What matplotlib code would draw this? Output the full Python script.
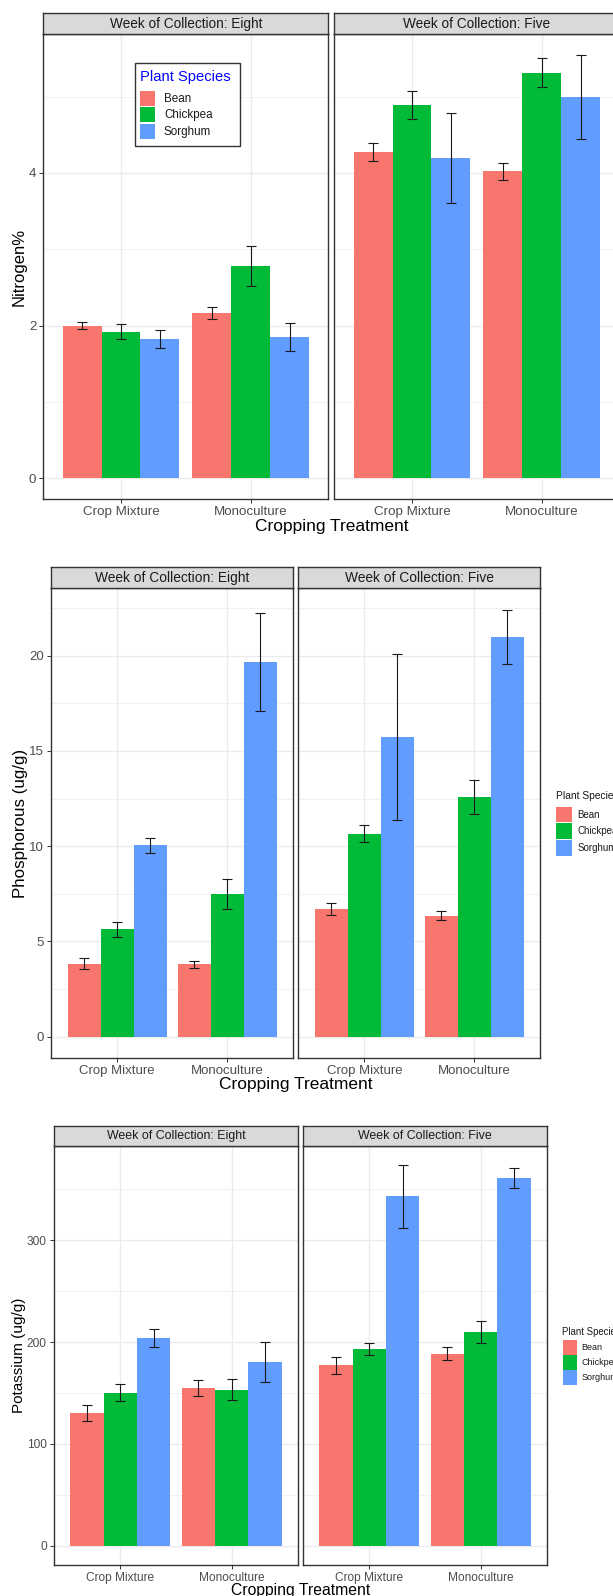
import matplotlib
matplotlib.use("Agg")
import matplotlib.pyplot as plt
from matplotlib.patches import Rectangle
import numpy as np

plt.rcParams['font.family'] = ['Liberation Sans', 'DejaVu Sans']

W, H = 613, 1596
DPI = 100

species = ["Bean", "Chickpea", "Sorghum"]
colors = ["#F8766D", "#00BA38", "#619CFF"]
treatments = ["Crop Mixture", "Monoculture"]
weeks = ["Eight", "Five"]

# values[species] -> [Crop Mixture, Monoculture]
nitrogen_eight = {"Bean": [2.00, 2.16], "Chickpea": [1.92, 2.78], "Sorghum": [1.82, 1.85]}
nitrogen_eight_se = {"Bean": [0.045, 0.08], "Chickpea": [0.10, 0.26], "Sorghum": [0.12, 0.19]}
nitrogen_five = {"Bean": [4.27, 4.02], "Chickpea": [4.89, 5.31], "Sorghum": [4.20, 4.99]}
nitrogen_five_se = {"Bean": [0.12, 0.115], "Chickpea": [0.185, 0.19], "Sorghum": [0.59, 0.55]}
nitrogen_ticks = [0, 2, 4]

phos_eight = {"Bean": [3.84, 3.79], "Chickpea": [5.63, 7.50], "Sorghum": [10.04, 19.67]}
phos_eight_se = {"Bean": [0.29, 0.19], "Chickpea": [0.38, 0.78], "Sorghum": [0.40, 2.57]}
phos_five = {"Bean": [6.72, 6.36], "Chickpea": [10.65, 12.57], "Sorghum": [15.72, 21.00]}
phos_five_se = {"Bean": [0.31, 0.25], "Chickpea": [0.45, 0.88], "Sorghum": [4.35, 1.42]}
phos_ticks = [0, 5, 10, 15, 20]

pot_eight = {"Bean": [130.6, 154.8], "Chickpea": [150.2, 153.4], "Sorghum": [204.0, 180.5]}
pot_eight_se = {"Bean": [7.7, 8.0], "Chickpea": [8.2, 10.6], "Sorghum": [8.8, 20.0]}
pot_five = {"Bean": [177.0, 188.7], "Chickpea": [193.3, 210.0], "Sorghum": [342.8, 361.0]}
pot_five_se = {"Bean": [8.7, 6.2], "Chickpea": [6.2, 10.6], "Sorghum": [31.0, 10.0]}
pot_ticks = [0, 100, 200, 300]

fig = plt.figure(figsize=(W / DPI, H / DPI), dpi=DPI)


def fx(x):
    return x / W


def fy(y):
    return 1 - y / H


def add_ax(x0, x1, y0, y1):
    return fig.add_axes([fx(x0), fy(y1), fx(x1) - fx(x0), (y1 - y0) / H])


BORDER = "#333333"


def draw_panel(spec, ylabel, ylabel_fs):
    data = spec["data"]
    ticks = spec["ticks"]
    tops = []
    for vals, ses in data:
        for s in species:
            tops += list(np.array(vals[s]) + np.array(ses[s]))
    ymax = max(tops)
    ymin = 0.0
    pad = 0.05 * (ymax - ymin)
    ylim = (ymin - pad, ymax + pad)
    minor = [(ticks[i] + ticks[i + 1]) / 2 for i in range(len(ticks) - 1)]
    minor.append(ticks[-1] + (ticks[1] - ticks[0]) / 2)

    for k, (facet_x, (vals, ses), week) in enumerate(zip(spec["facets"], data, weeks)):
        x0, x1 = facet_x
        ax = add_ax(x0, x1, spec["strip"][1], spec["bottom"])
        ax.set_facecolor("white")
        ax.set_xlim(0.4, 2.6)
        ax.set_ylim(*ylim)
        ax.set_yticks(ticks)
        ax.set_yticks([m for m in minor if m < ylim[1]], minor=True)
        ax.set_xticks([1, 2])
        ax.set_xticklabels(treatments)
        ax.grid(True, which="major", color="#EBEBEB", lw=1.0)
        ax.grid(True, which="minor", axis="y", color="#EBEBEB", lw=0.5)
        ax.set_axisbelow(True)
        xs = np.array([1, 2])
        for j, s in enumerate(species):
            off = (j - 1) * 0.3
            ax.bar(xs + off, vals[s], width=0.3, color=colors[j], zorder=2, linewidth=0)
            ax.errorbar(xs + off, vals[s], yerr=ses[s], fmt="none", ecolor="#1A1A1A",
                        elinewidth=0.8, capsize=3.8, capthick=0.8, zorder=3)
        for sp in ax.spines.values():
            sp.set_color(BORDER)
            sp.set_linewidth(1.0)
        ax.tick_params(axis="both", which="major", length=3, width=0.7, color=BORDER,
                       labelcolor="#4D4D4D", labelsize=spec["tick_fs"], pad=2)
        ax.tick_params(axis="both", which="minor", length=0)
        if k == 0:
            ax.tick_params(axis="y", labelleft=True)
        else:
            ax.tick_params(axis="y", labelleft=False, length=0)
        sax = add_ax(x0, x1, spec["strip"][0], spec["strip"][1])
        sax.set_facecolor("#D9D9D9")
        sax.set_xticks([])
        sax.set_yticks([])
        for sp in sax.spines.values():
            sp.set_color(BORDER)
            sp.set_linewidth(1.0)
        sax.text(0.5, 0.5, "Week of Collection: " + week, ha="center", va="center",
                 fontsize=spec["strip_fs"], color="#1A1A1A", transform=sax.transAxes)

    fig.text(fx(spec["ylab_x"]), fy((spec["strip"][1] + spec["bottom"]) / 2), ylabel,
             rotation=90, ha="center", va="center", fontsize=ylabel_fs, color="black")
    xc = (spec["facets"][0][0] + spec["facets"][1][1]) / 2
    fig.text(fx(xc), fy(spec["xlab_y"]), "Cropping Treatment", ha="center", va="center",
             fontsize=spec["xlab_fs"], color="black")


def draw_legend(tx, ty, kx0, kx1, rows, lx, title_fs, label_fs, title_color, box=None):
    if box is not None:
        bx0, bx1, by0, by1 = box
        fig.patches.append(Rectangle((fx(bx0), fy(by1)), fx(bx1) - fx(bx0), (by1 - by0) / H,
                                     transform=fig.transFigure, facecolor="white",
                                     edgecolor=BORDER, linewidth=1.0, zorder=5))
    fig.text(fx(tx), fy(ty), "Plant Species", ha="left", va="center", fontsize=title_fs,
             color=title_color, zorder=6)
    for (r0, r1), s, c in zip(rows, species, colors):
        fig.patches.append(Rectangle((fx(kx0), fy(r1)), fx(kx1) - fx(kx0), (r1 - r0) / H,
                                     transform=fig.transFigure, facecolor=c,
                                     edgecolor="none", zorder=6))
        fig.text(fx(lx), fy((r0 + r1) / 2), s, ha="left", va="center", fontsize=label_fs,
                 color="#1A1A1A", zorder=6)


panels = [
    dict(data=[(nitrogen_eight, nitrogen_eight_se), (nitrogen_five, nitrogen_five_se)],
         ticks=nitrogen_ticks, facets=[(43.3, 328.4), (334.2, 619.6)],
         strip=(13.3, 34.3), bottom=499.3, ylab_x=19.5, xlab_y=527.0,
         tick_fs=9.6, strip_fs=9.8, xlab_fs=12.5),
    dict(data=[(phos_eight, phos_eight_se), (phos_five, phos_five_se)],
         ticks=phos_ticks, facets=[(51.2, 293.3), (298.3, 540.4)],
         strip=(567.3, 588.3), bottom=1058.0, ylab_x=20.3, xlab_y=1084.5,
         tick_fs=9.5, strip_fs=9.9, xlab_fs=12.5),
    dict(data=[(pot_eight, pot_eight_se), (pot_five, pot_five_se)],
         ticks=pot_ticks, facets=[(53.7, 298.3), (302.7, 547.3)],
         strip=(1125.7, 1145.8), bottom=1565.0, ylab_x=19.5, xlab_y=1590.0,
         tick_fs=8.6, strip_fs=8.9, xlab_fs=11.3),
]
ylabels = [("Nitrogen%", 12.0), ("Phosphorous (ug/g)", 12.2), ("Potassium (ug/g)", 11.0)]

for spec, (yl, yfs) in zip(panels, ylabels):
    draw_panel(spec, yl, yfs)

draw_legend(140, 76.7, 140.3, 155.3, [(91, 106), (107.3, 122.3), (124, 139)], 164,
            10.6, 8.4, "#0000FF", box=(135, 240.4, 63.3, 145.7))
draw_legend(556, 795.7, 555.7, 571.5, [(806.7, 822.3), (823.3, 838.5), (840, 855.5)], 577.5,
            7.4, 7.0, "#1A1A1A")
draw_legend(562, 1331.7, 562.7, 576.7, [(1340, 1354.5), (1355.3, 1369.5), (1370.3, 1384.5)], 581.7,
            6.9, 6.5, "#1A1A1A")

fig.savefig("out.png", dpi=DPI)
